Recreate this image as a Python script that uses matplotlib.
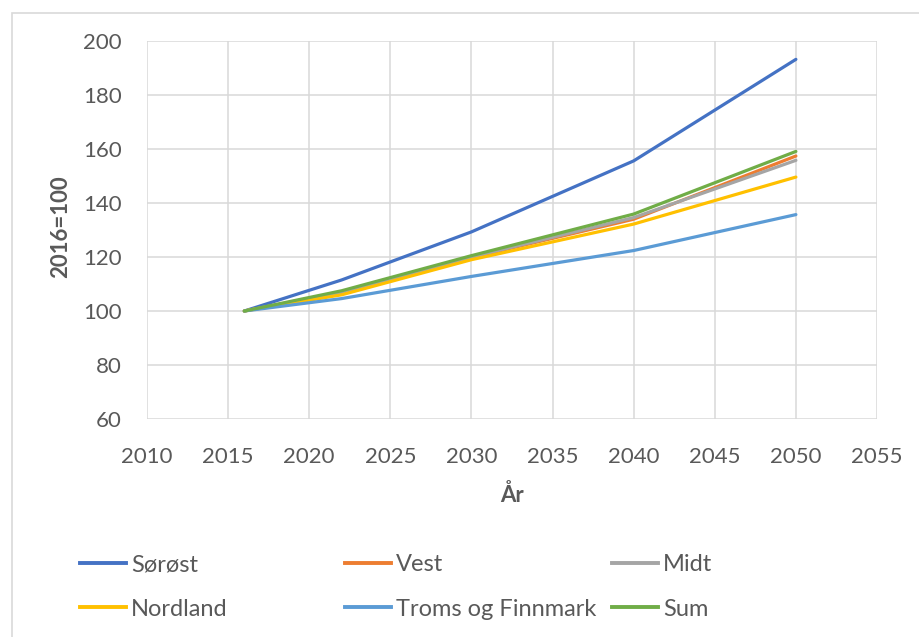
import matplotlib
matplotlib.use("Agg")
import matplotlib.pyplot as plt
from matplotlib.lines import Line2D
from matplotlib.patches import Rectangle

plt.rcParams['font.family'] = ['Lato', 'DejaVu Sans']

# indeksert utvikling, 2016=100
years = [2016, 2022, 2030, 2040, 2050]
regions = ["Sørøst", "Vest", "Midt", "Nordland", "Troms og Finnmark", "Sum"]
soroest = [100, 111.5, 129.3, 155.6, 193.2]
vest = [100, 106.5, 119.8, 134.0, 157.4]
midt = [100, 107.0, 120.0, 134.6, 155.8]
nordland = [100, 106.0, 119.0, 132.2, 149.6]
troms_finnmark = [100, 104.6, 112.8, 122.4, 135.7]
total = [100, 107.5, 120.5, 135.9, 159.1]
series = [soroest, vest, midt, nordland, troms_finnmark, total]

xticks = list(range(2010, 2060, 5))
yticks = list(range(60, 220, 20))

colors = ["#4472C4", "#ED7D31", "#A5A5A5", "#FFC000", "#5B9BD5", "#70AD47"]
grey_txt = "#595959"
grid_col = "#D9D9D9"

fig = plt.figure(figsize=(9.2, 6.37), dpi=100)
fig.patch.set_facecolor("white")

# ramme rundt diagramområdet
fig.add_artist(Rectangle((12 / 920, -0.1), 1.2, 1.1 - 13 / 637,
                         transform=fig.transFigure, fill=False,
                         edgecolor=grid_col, linewidth=1.2))

ax = fig.add_axes([147 / 920, 1 - 419 / 637, 730 / 920, 378 / 637])
for vals, col in zip(series, colors):
    ax.plot(years, vals, color=col, linewidth=2.3, solid_capstyle="round")

ax.set_xlim(2010, 2055)
ax.set_ylim(60, 200)
ax.set_xticks(xticks)
ax.set_yticks(yticks)
ax.grid(True, color=grid_col, linewidth=1.1)
ax.set_axisbelow(True)
for sp in ax.spines.values():
    sp.set_visible(False)
ax.tick_params(length=0, labelsize=16, colors=grey_txt)
ax.tick_params(axis="x", pad=20)
ax.tick_params(axis="y", pad=18)

ax.set_ylabel("2016=100", fontsize=16, fontweight="bold", color=grey_txt)
ax.yaxis.label.set_va("center")
ax.yaxis.set_label_coords((61 - 147) / 730, (419 - 227) / 378)
ax.set_xlabel("År", fontsize=16, fontweight="bold", color=grey_txt)
ax.xaxis.label.set_va("center")
ax.xaxis.set_label_coords((512 - 147) / 730, (419 - 495) / 378)

# tegnforklaring i tre faste kolonner
col_x = [80, 345, 612]
for j, x0 in enumerate(col_x):
    idx = [j, j + 3]
    handles = [Line2D([], [], color=colors[i], linewidth=2.8) for i in idx]
    labels = [regions[i] for i in idx]
    leg = fig.legend(handles, labels, loc="upper left",
                     bbox_to_anchor=(x0 / 920, 1 - 554 / 637),
                     frameon=False, fontsize=17, handlelength=1.95,
                     handletextpad=0.22, labelspacing=1.0,
                     borderpad=0, borderaxespad=0)
    for t in leg.get_texts():
        t.set_color(grey_txt)

fig.savefig("out.png", dpi=100, facecolor="white")
